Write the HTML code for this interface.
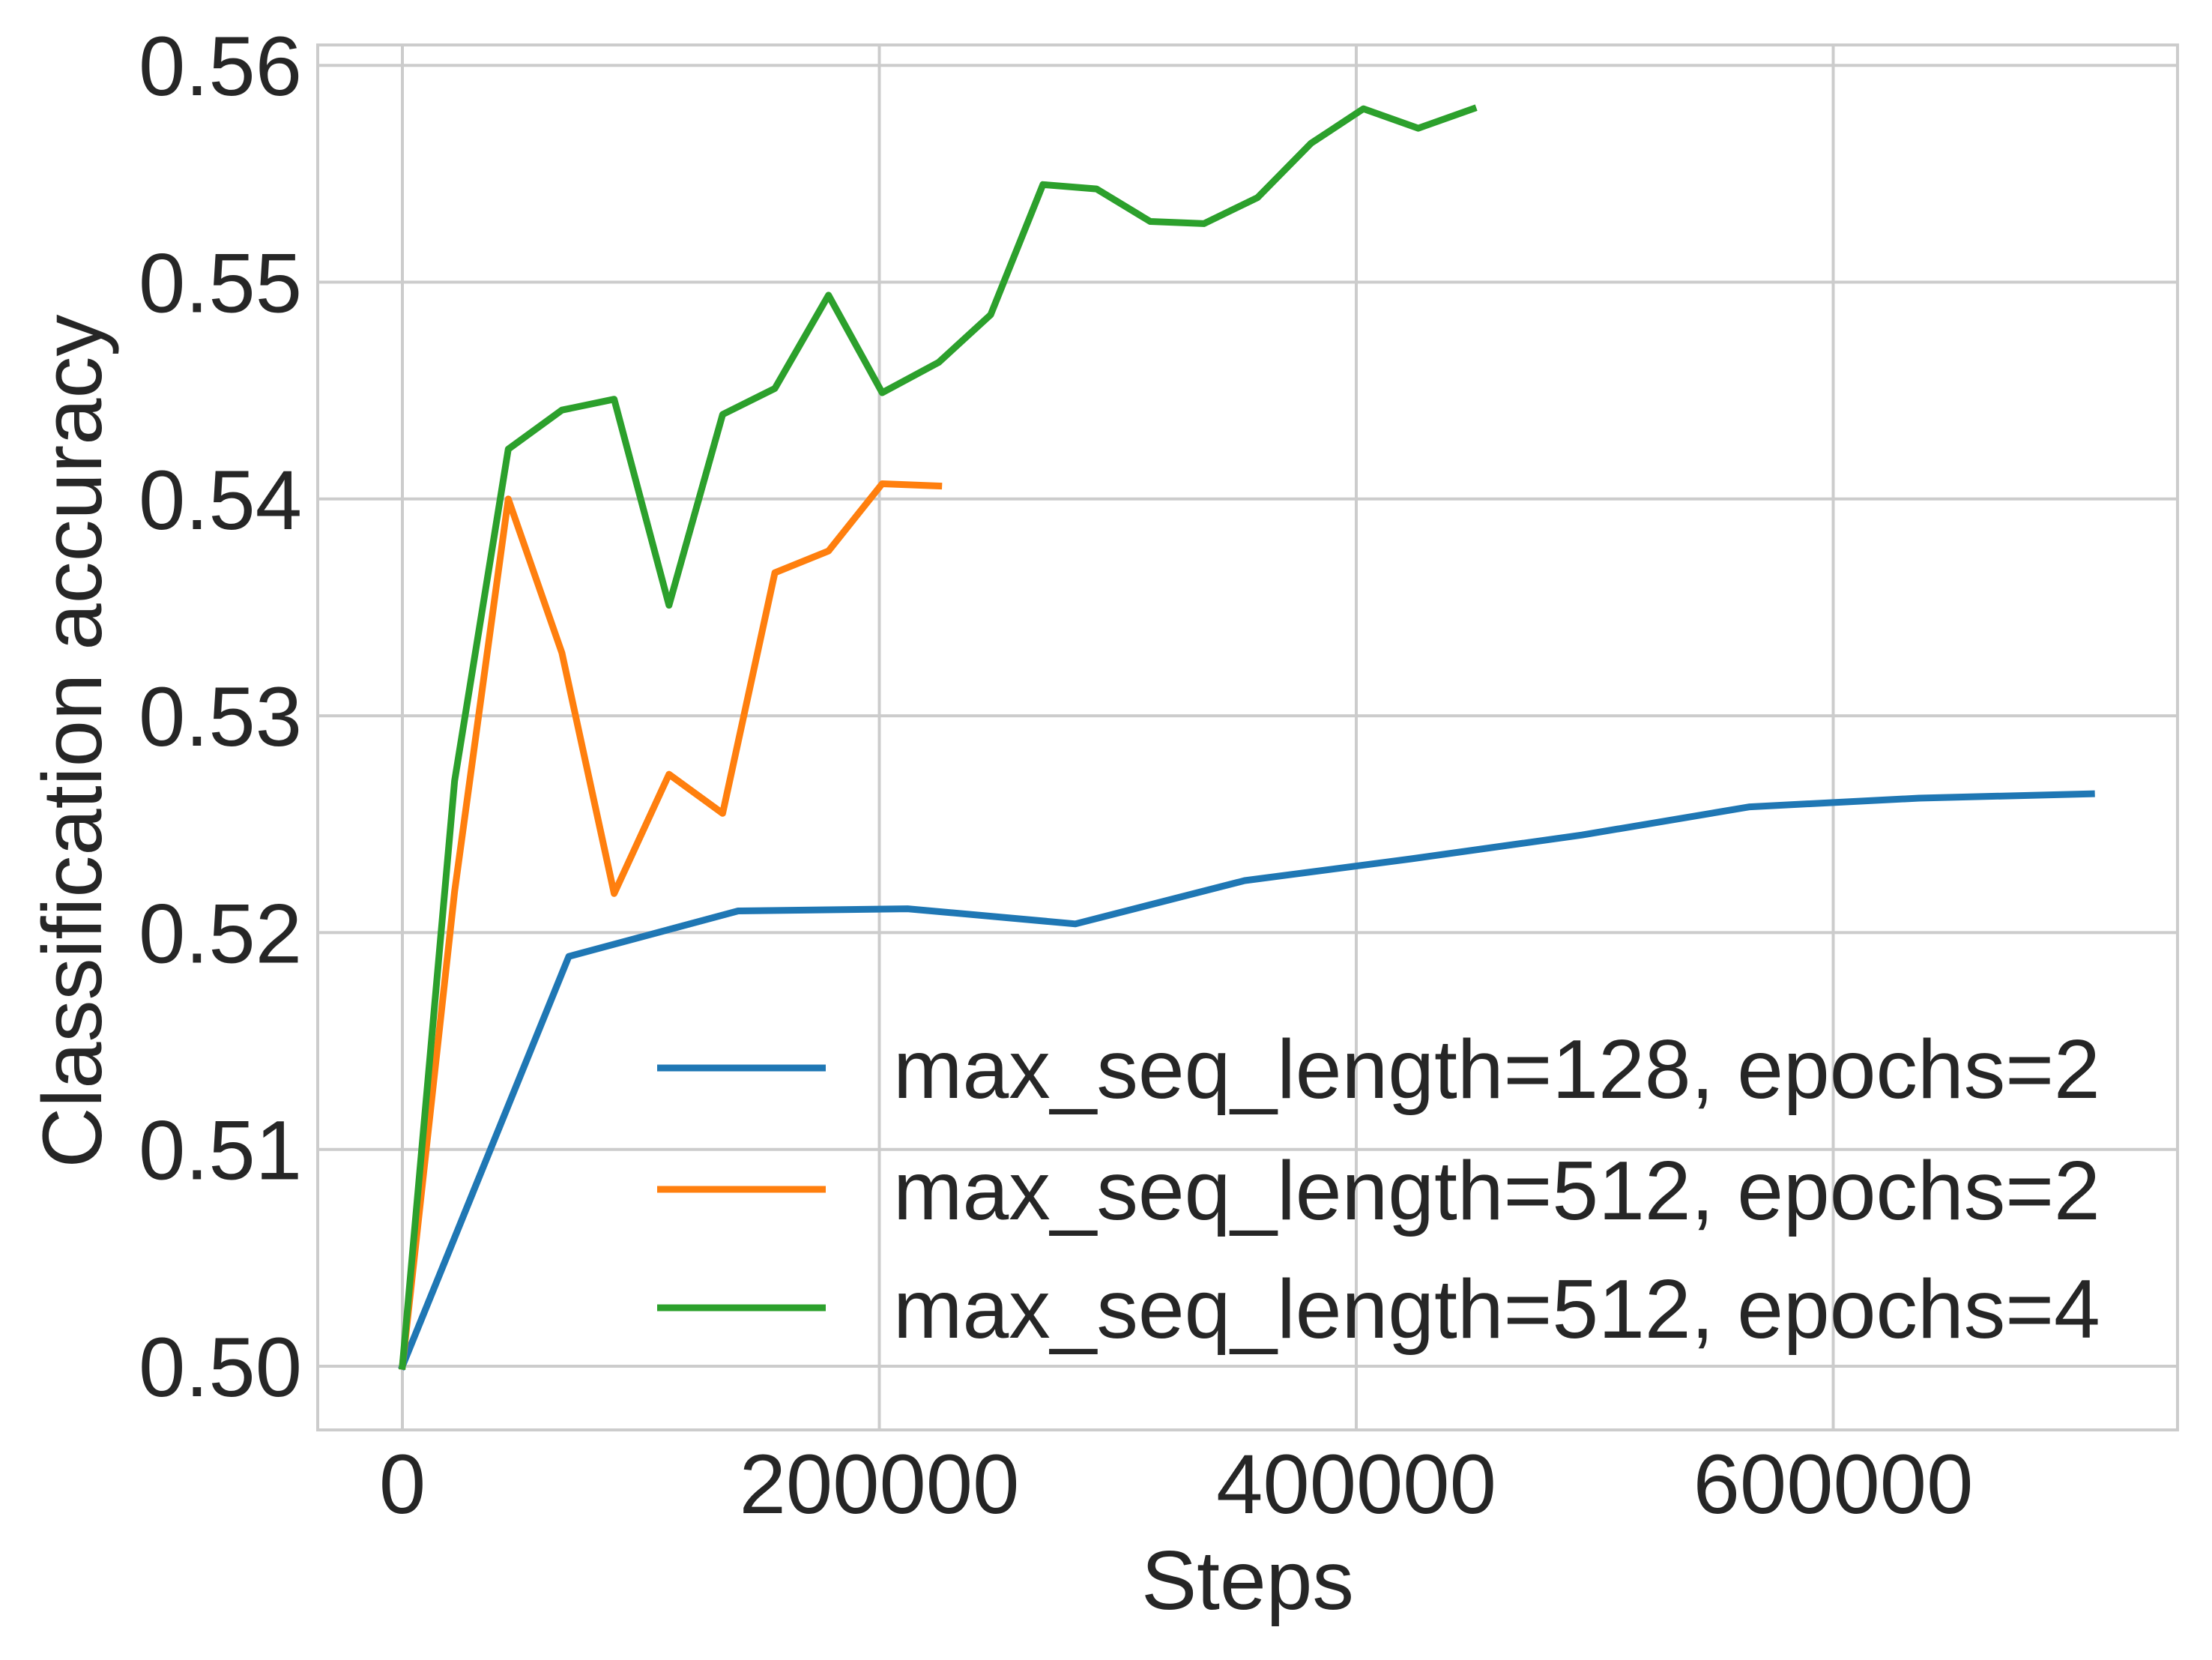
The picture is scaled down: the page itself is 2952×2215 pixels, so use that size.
<!DOCTYPE html>
<html><head><meta charset="utf-8"><style>
html,body{margin:0;padding:0;background:#fff;}
svg{display:block;font-family:"Liberation Sans",Arial,sans-serif;}
</style></head><body>
<svg id="chart" width="2952" height="2215" viewBox="0 0 2952 2215" xmlns="http://www.w3.org/2000/svg">
<rect width="2952" height="2215" fill="#fff"/>
<g id="grid"></g>
<rect x="424" y="60" width="2482" height="1848" fill="none" stroke="#cccccc" stroke-width="4"/>
<g id="series"></g>
<g id="ticks" fill="#262626" font-size="112"></g>
<text x="1665" y="2147" text-anchor="middle" font-size="111" fill="#262626">Steps</text>
<text transform="translate(135,989) rotate(-90)" text-anchor="middle" font-size="112" fill="#262626">Classification accuracy</text>
<g id="legend"></g>
</svg>
<script>
const xTicks=[0,200000,400000,600000];
const xTickLabels=["0","200000","400000","600000"];
const yTicks=[0.50,0.51,0.52,0.53,0.54,0.55,0.56];
const yTickLabels=["0.50","0.51","0.52","0.53","0.54","0.55","0.56"];
const seriesNames=["max_seq_length=128, epochs=2","max_seq_length=512, epochs=2","max_seq_length=512, epochs=4"];
const seriesColors=["#1f77b4","#ff7f0e","#2ca02c"];
const blueSteps=[0,69800,140800,211800,282200,353200,423000,494600,565000,636000,708300];
const blueAcc=[0.500,0.5189,0.5210,0.5211,0.5204,0.5224,0.5234,0.5245,0.5258,0.5262,0.5264];
const orangeSteps=[0,21900,44400,66900,88800,111800,134300,156200,178700,201200,224900];
const orangeAcc=[0.500,0.5219,0.5400,0.5329,0.5218,0.5273,0.5255,0.5366,0.5376,0.5407,0.5406];
const greenSteps=[0,21900,44400,66900,88800,111800,134300,156200,178700,201200,224900,246700,268600,291100,313600,336100,358600,381000,403000,426000,449000];
const greenAcc=[0.500,0.5270,0.5423,0.5441,0.5446,0.5351,0.5439,0.5451,0.5494,0.5449,0.5463,0.5485,0.5545,0.5543,0.5528,0.5527,0.5539,0.5564,0.5580,0.5571,0.5580];

const NS="http://www.w3.org/2000/svg";
const X=v=>537+v*636.5/200000;
const Y=v=>1823-(v-0.5)*28930;
function mk(tag,attrs,parent){const e=document.createElementNS(NS,tag);for(const k in attrs)e.setAttribute(k,attrs[k]);parent.appendChild(e);return e;}
const grid=document.getElementById('grid'),ticks=document.getElementById('ticks');
xTicks.forEach((t,i)=>{
  const l=mk('line',{x1:X(t),x2:X(t),y1:60,y2:1908,stroke:'#cccccc','stroke-width':4},grid);
  
  
  const tx=mk('text',{x:X(t),y:2019,'text-anchor':'middle'},ticks);
  tx.textContent=xTickLabels[i];
  
  
});
yTicks.forEach((t,i)=>{
  const l=mk('line',{x1:424,x2:2906,y1:Y(t),y2:Y(t),stroke:'#cccccc','stroke-width':4},grid);
  
  
  const tx=mk('text',{x:403,y:Y(t)+40,'text-anchor':'end'},ticks);
  tx.textContent=yTickLabels[i];
  
  
});
const sg=document.getElementById('series');
const data=[[blueSteps,blueAcc],[orangeSteps,orangeAcc],[greenSteps,greenAcc]];
const names=['line-blue-128-ep2','line-orange-512-ep2','line-green-512-ep4'];
data.forEach((d,i)=>{
  const pts=d[0].map((s,j)=>X(s).toFixed(1)+','+Y(d[1][j]).toFixed(1)).join(' ');
  const p=mk('polyline',{points:pts,fill:'none',stroke:seriesColors[i],'stroke-width':9,'stroke-linejoin':'round','stroke-linecap':'square'},sg);
  
  
});
const lg=document.getElementById('legend');
const ly=[1425,1587,1745];
seriesNames.forEach((n,i)=>{
  const l=mk('line',{x1:877,x2:1102,y1:ly[i],y2:ly[i],stroke:seriesColors[i],'stroke-width':9},lg);
  
  
  const t=mk('text',{x:1192,y:ly[i]+40,'font-size':111,fill:'#262626'},lg);
  t.textContent=n;
  
  
});
</script>
</body></html>
